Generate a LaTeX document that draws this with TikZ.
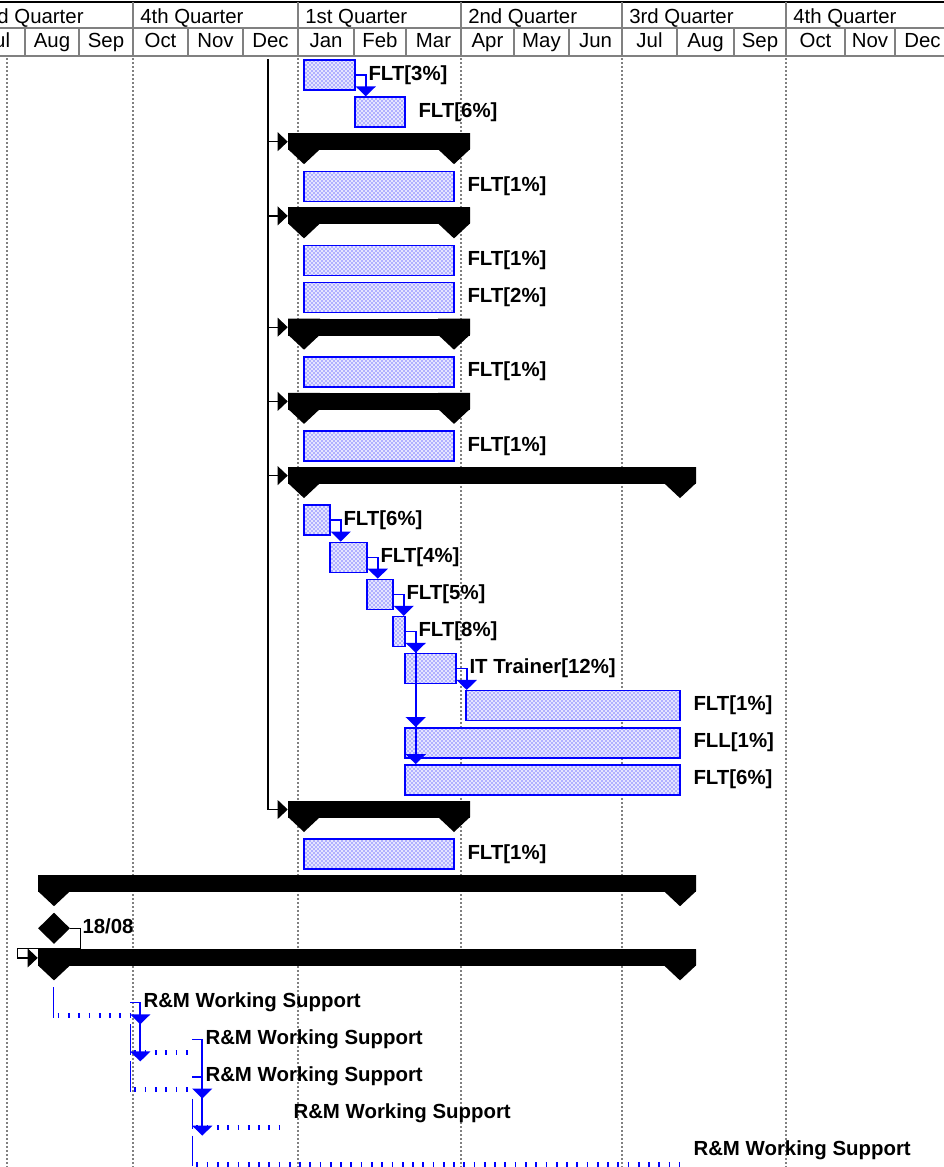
\documentclass[tikz,border=0pt]{standalone}
\usepackage{fontspec}
\setmainfont{Liberation Sans}
\usetikzlibrary{arrows.meta,fit,patterns,shapes.geometric}

\tikzset{
    taskbar/.style={draw=blue, line width=1.1pt, fill=blue!10, inner sep=0pt,
        postaction={pattern=crosshatch dots, pattern color=blue}},
    sumbar/.style={fill=black, inner sep=0pt},
    milestone/.style={diamond, fill=black, inner sep=0pt, minimum width=24pt, minimum height=23.5pt},
    lbl/.style={anchor=base west, inner sep=0pt, font=\fontsize{15.3}{18}\selectfont\bfseries},
    hdr/.style={inner sep=0pt, font=\fontsize{15.3}{18}\selectfont},
    hline/.style={gray, line width=1.5pt},
    gridline/.style={gray, line width=0.8pt, dash pattern=on 1.2pt off 1.8pt},
    linkarrow/.style={blue, line width=1.2pt, -{Triangle[length=7.5pt,width=15pt]}},
    sumlink/.style={black, line width=0.9pt, -{Triangle[length=7.5pt,width=14pt]}},
    rmticks/.style={blue, line width=3.75pt, dash pattern=on 1.3pt off 6.4pt}
}

\begin{document}
\begin{tikzpicture}[x=0.75pt, y=-0.75pt]

% 画布与参考图同样大小
\useasboundingbox (0,0) rectangle (944,1167);
\clip (0,0) rectangle (944,1167);

% 定义行距\pitch
\pgfmathsetmacro{\pitch}{37.1}

% 季度点线
\foreach \gx in {133,298,461,622,786} {
    \draw[gridline] (\gx,58) -- (\gx,1167);
}
\draw[gridline, line width=1.8pt, dash pattern=on 1.5pt off 1.5pt] (7,58) -- (7,1167);

% 表头
\draw[hline] (0,28) -- (944,28) (0,56) -- (944,56);
\draw[line width=2pt] (0,2) -- (944,2);
\foreach \qx in {133,298,461,622,786} {
    \draw[hline] (\qx,2) -- (\qx,28);
}
\foreach \startx/\q [count=\i] in {-21/3rd, 140/4th, 305/1st, 468/2nd, 629/3rd, 793/4th} {
    \node[hdr, anchor=base west] (q\i) at (\startx,23) {\q\ Quarter};
}
\foreach \startx/\endx/\m [count=\i] in {-31/25/Jul, 25/79/Aug, 79/133/Sep, 133/188/Oct, 188/243/Nov, 243/298/Dec, 298/354/Jan, 354/406/Feb, 406/461/Mar, 461/514/Apr, 514/569/May, 569/622/Jun, 622/677/Jul, 677/734/Aug, 734/786/Sep, 786/845/Oct, 845/895/Nov, 895/950/Dec} {
    \draw[hline] (\endx,28) -- (\endx,56);
    \node[hdr, anchor=base] (mo\i) at ({(\startx+\endx)/2},47) {\m};
}

% 汇总条
\foreach \rowid/\startx/\endx in {2/304/454, 4/304/454, 7/304/454, 9/304/454, 11/304/680, 20/304/454, 22/54/680, 24/54/680} {
    \pgfmathsetmacro{\ytop}{59+\pitch*\rowid}
    \node[sumbar, fit={(\startx-16,\ytop) (\endx+16,\ytop+17)}] (s\rowid) {};
    \foreach \cx in {\startx,\endx} {
        \fill (\cx-16,\ytop) -- (\cx+16,\ytop) -- (\cx+16,\ytop+16) -- (\cx,\ytop+31) -- (\cx-16,\ytop+16) -- cycle;
    }
}

% 任务条
\foreach \rowid/\startx/\endx/\txt in {0/304/355/FLT[3\%], 1/355/405/FLT[6\%], 3/304/454/FLT[1\%], 5/304/454/FLT[1\%], 6/304/454/FLT[2\%], 8/304/454/FLT[1\%], 10/304/454/FLT[1\%], 12/304/330/FLT[6\%], 13/330/367/FLT[4\%], 14/367/393/FLT[5\%], 15/393/405/FLT[8\%], 16/405/456/IT Trainer[12\%], 17/466/680/FLT[1\%], 18/405/680/FLL[1\%], 19/405/680/FLT[6\%], 21/304/454/FLT[1\%]} {
    \pgfmathsetmacro{\ytop}{60+\pitch*\rowid}
    \node[taskbar, fit={(\startx,\ytop) (\endx,\ytop+30)}] (b\rowid) {};
    \node[lbl] (l\rowid) at ([shift={(12.5,5)}]b\rowid.east) {\txt};
}

% 左侧总线
\coordinate (spine) at (268,59);
\draw[line width=1.1pt] (spine) -- (spine |- s20.west);
\foreach \rowid in {2,4,7,9,11,20} {
    \draw[sumlink] (spine |- s\rowid.west) -- (s\rowid.west);
}

% 任务之间的连线
\foreach \a/\b in {0/1, 12/13, 13/14, 14/15, 15/16, 15/18, 15/19, 16/17} {
    \draw[linkarrow] (b\a.east) -- ++(10,0) coordinate (k) -- (k |- b\b.north);
}

% 里程碑
\node[milestone] (m23) at (54,{60+\pitch*23+15}) {};
\node[lbl] (l23) at ([shift={(12,5.5)}]m23.east) {18/08};
\draw[sumlink] (m23.east) -- ++(10,0) -- ++(0,20) -| ([xshift=-15pt]s24.west) -- (s24.west);

% R&M 行
\foreach \rowid/\startx/\endx in {25/54/130, 26/130.7/192, 27/130.7/192, 28/192.7/280, 29/192.7/680} {
    \pgfmathsetmacro{\ytop}{60+\pitch*\rowid}
    \node[inner sep=0pt, fit={(\startx,\ytop) (\endx,\ytop+30)}] (r\rowid) {};
    \draw[blue, line width=1.1pt] (r\rowid.north west) -- (r\rowid.south west);
    \draw[rmticks] ([shift={(4,-2)}]r\rowid.south west) -- ([shift={(0,-2)}]r\rowid.south east);
    \node[lbl] (lr\rowid) at ([shift={(13,5)}]r\rowid.east) {R\&M Working Support};
}
\foreach \a/\b in {25/26, 25/27, 26/28, 27/29} {
    \draw[linkarrow] (r\a.east) -- ++(10,0) coordinate (k) -- (k |- r\b.north);
}

\end{tikzpicture}
\end{document}
